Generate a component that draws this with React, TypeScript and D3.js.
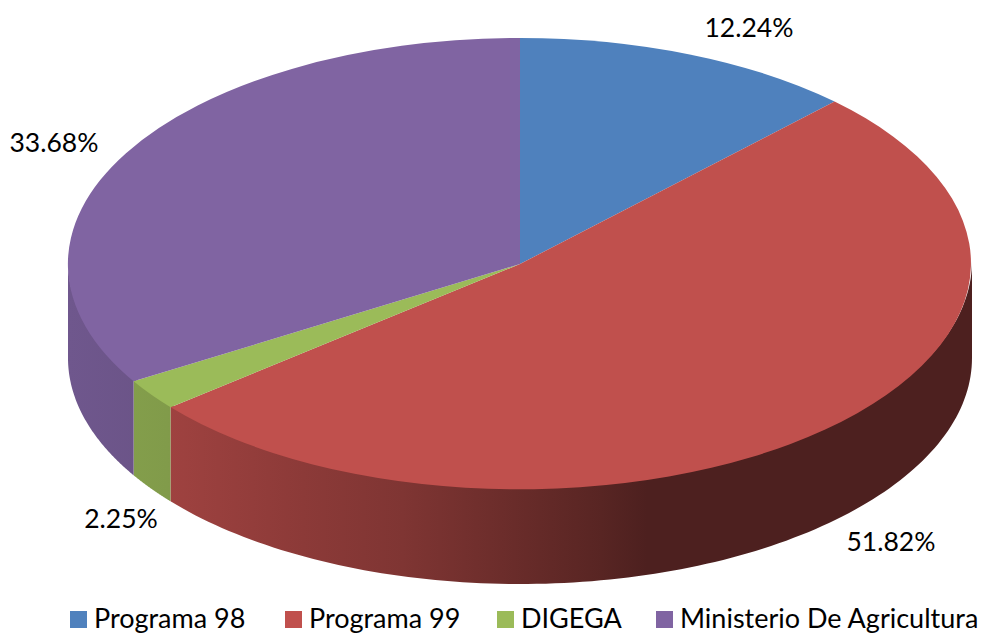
import * as d3 from "d3";

const categories = ["Programa 98", "Programa 99", "DIGEGA", "Ministerio De Agricultura"];
const shares = [12.24, 51.82, 2.25, 33.68];
const colors = ["#4f81bd", "#c0504d", "#9bbb59", "#8064a2"];

const width = 982;
const height = 633;
const cx = 520;
const cy = 264;
const rx = 452;
const ry = 226;
const depth = 94;

// label centres, same order as categories
const labelPos = [
  [749, 28],
  [891, 542],
  [121, 519],
  [54, 143],
];
const legendX = [70, 285, 497, 656];

const slices = d3
  .pie<number>()
  .sort(null)
  .value((d) => d)(shares);

const arc = d3.arc<any>().innerRadius(0).outerRadius(1);

const px = (a: number) => cx + rx * Math.sin(a);
const py = (a: number) => cy - ry * Math.cos(a);

// top edge runs a little under the face so no white seam shows
const wall = d3
  .area<number>()
  .x((a) => px(a))
  .y0((a) => py(a) - 3)
  .y1((a) => py(a) + depth);

// only the part of a slice facing the viewer gets a side
const wallPath = (start: number, end: number) => {
  const a0 = Math.max(start, Math.PI / 2);
  const a1 = Math.min(end, (3 * Math.PI) / 2);
  if (a1 <= a0) return null;
  const n = 120;
  const angles = d3.range(n + 1).map((i) => a0 + ((a1 - a0) * i) / n);
  return wall(angles);
};

const shade = (color: string, k: number) => {
  const c = d3.rgb(color);
  return d3.rgb(c.r * k, c.g * k, c.b * k).formatHex();
};

const shadeStops = [
  [0, 0.87],
  [0.11, 0.83],
  [0.26, 0.73],
  [0.37, 0.66],
  [0.48, 0.56],
  [0.59, 0.46],
  [0.64, 0.4],
  [1, 0.4],
];

export default function App() {
  return (
    <svg
      width={width}
      height={height}
      style={{ position: "absolute", left: 0, top: 0, background: "#fff" }}
      fontFamily="Lato, sans-serif"
    >
      <defs>
        {colors.map((c, i) => (
          <linearGradient
            key={i}
            id={`side${i}`}
            gradientUnits="userSpaceOnUse"
            x1={cx - rx}
            x2={cx + rx}
            y1={0}
            y2={0}
          >
            {shadeStops.map(([o, k]) => (
              <stop key={o} offset={o} stopColor={shade(c, k)} />
            ))}
          </linearGradient>
        ))}
      </defs>
      <g>
        {slices.map((s, i) => {
          const d = wallPath(s.startAngle, s.endAngle);
          return d ? <path key={i} d={d} fill={`url(#side${i})`} /> : null;
        })}
      </g>
      <g transform={`translate(${cx},${cy}) scale(${rx},${ry})`}>
        {slices.map((s, i) => (
          <path key={i} d={arc(s) as string} fill={colors[i]} />
        ))}
      </g>
      <g fontSize={26.5} fill="#000" textAnchor="middle">
        {shares.map((v, i) => (
          <text key={i} x={labelPos[i][0]} y={labelPos[i][1]} dy="0.35em">
            {v.toFixed(2)}%
          </text>
        ))}
      </g>
      <g fontSize={27} fill="#000">
        {categories.map((c, i) => (
          <g key={c}>
            <rect x={legendX[i]} y={611} width={17} height={17} fill={colors[i]} />
            <text x={legendX[i] + 24} y={628}>
              {c}
            </text>
          </g>
        ))}
      </g>
    </svg>
  );
}
